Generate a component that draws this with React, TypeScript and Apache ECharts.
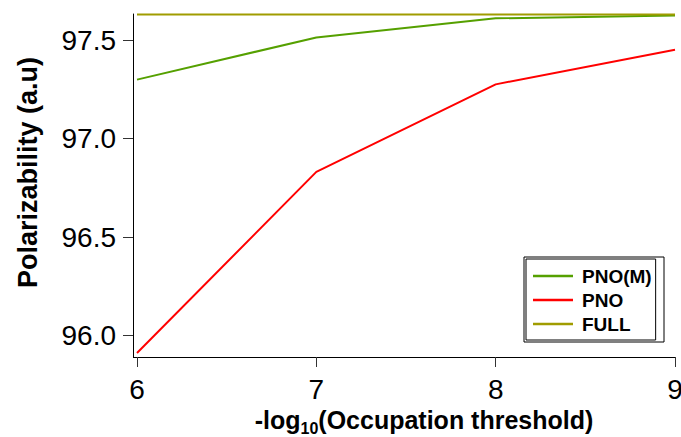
import React, { useEffect, useRef } from "react";
import * as echarts from "echarts";

const thresholds = [6, 7, 8, 9];
const pnoM = [97.299, 97.513, 97.61, 97.625];
const pno = [95.912, 96.831, 97.275, 97.451];
const full = [97.629, 97.629, 97.629, 97.629];
const yTicks = [96.0, 96.5, 97.0, 97.5];
const seriesNames = ["PNO(M)", "PNO", "FULL"];
const colors = ["#55a000", "#ff0000", "#a09c00"];

export default function App() {
  const ref = useRef<HTMLDivElement>(null);
  useEffect(() => {
    if (!ref.current) return;
    const chart = echarts.init(ref.current, null, { renderer: "svg" });
    const font = "'Liberation Sans', Arial, Helvetica, sans-serif";
    const values = [pnoM, pno, full];
    chart.setOption({
      animation: false,
      backgroundColor: "#fff",
      textStyle: { fontFamily: font },
      grid: { left: 137, right: 6, top: 14, bottom: 80, outerBoundsMode: "none", containLabel: false },
      xAxis: {
        type: "value",
        min: 6,
        max: 9,
        interval: 1,
        splitLine: { show: false },
        axisLine: { lineStyle: { color: "#000", width: 1 } },
        axisTick: { length: 10, lineStyle: { color: "#333" } },
        axisLabel: { fontSize: 28, color: "#000", margin: 18, fontFamily: font },
        name: "{a|-log}{s|10}{a|(Occupation threshold)}",
        nameLocation: "middle",
        nameGap: 47,
        nameTextStyle: {
          padding: [0, 0, 0, 36],
          rich: {
            a: { fontSize: 25, fontWeight: "bold", color: "#000", fontFamily: font, verticalAlign: "bottom", lineHeight: 28 },
            s: { fontSize: 16, fontWeight: "bold", color: "#000", fontFamily: font, verticalAlign: "bottom", lineHeight: 20, padding: [0, 0, -4, 0] },
          },
        },
      },
      yAxis: {
        type: "value",
        min: 95.892,
        max: 97.632,
        offset: 4,
        splitLine: { show: false },
        axisLine: { show: true, lineStyle: { color: "#000", width: 1 } },
        axisTick: { show: true, length: 10, customValues: yTicks, lineStyle: { color: "#333" } },
        axisLabel: {
          fontSize: 28,
          color: "#000",
          margin: 17,
          fontFamily: font,
          customValues: yTicks,
          formatter: (v: number) => v.toFixed(1),
        },
        name: "Polarizability (a.u)",
        nameLocation: "middle",
        nameGap: 92,
        nameTextStyle: {
          fontSize: 27,
          fontWeight: "bold",
          color: "#000",
          fontFamily: font,
          padding: [0, 0, 0, 26],
        },
      },
      legend: {
        orient: "vertical",
        left: 526,
        top: 259,
        padding: [7, 4, 6, 7],
        itemGap: 4,
        itemWidth: 40,
        itemHeight: 2.5,
        icon: "rect",
        borderColor: "#000",
        borderWidth: 1,
        backgroundColor: "#fff",
        data: seriesNames,
        textStyle: {
          fontSize: 19,
          fontWeight: "bold",
          color: "#000",
          fontFamily: font,
          lineHeight: 20,
          padding: [0, 0, 0, 4],
        },
      },
      graphic: [
        {
          type: "rect",
          shape: { x: 524, y: 257, width: 140, height: 85 },
          style: { fill: "none", stroke: "#000", lineWidth: 1 },
          z: 0,
        },
        {
          type: "line",
          shape: { x1: 133, y1: 357.5, x2: 137, y2: 357.5 },
          style: { stroke: "#000", lineWidth: 1 },
        },
      ],
      series: seriesNames.map((name, i) => ({
        name,
        type: "line",
        data: thresholds.map((t, j) => [t, values[i][j]]),
        showSymbol: false,
        symbol: "none",
        clip: false,
        color: colors[i],
        lineStyle: { color: colors[i], width: 2 },
      })),
    });
    return () => chart.dispose();
  }, []);
  return <div ref={ref} style={{ width: 681, height: 437, position: "absolute", left: 0, top: 0 }} />;
}
